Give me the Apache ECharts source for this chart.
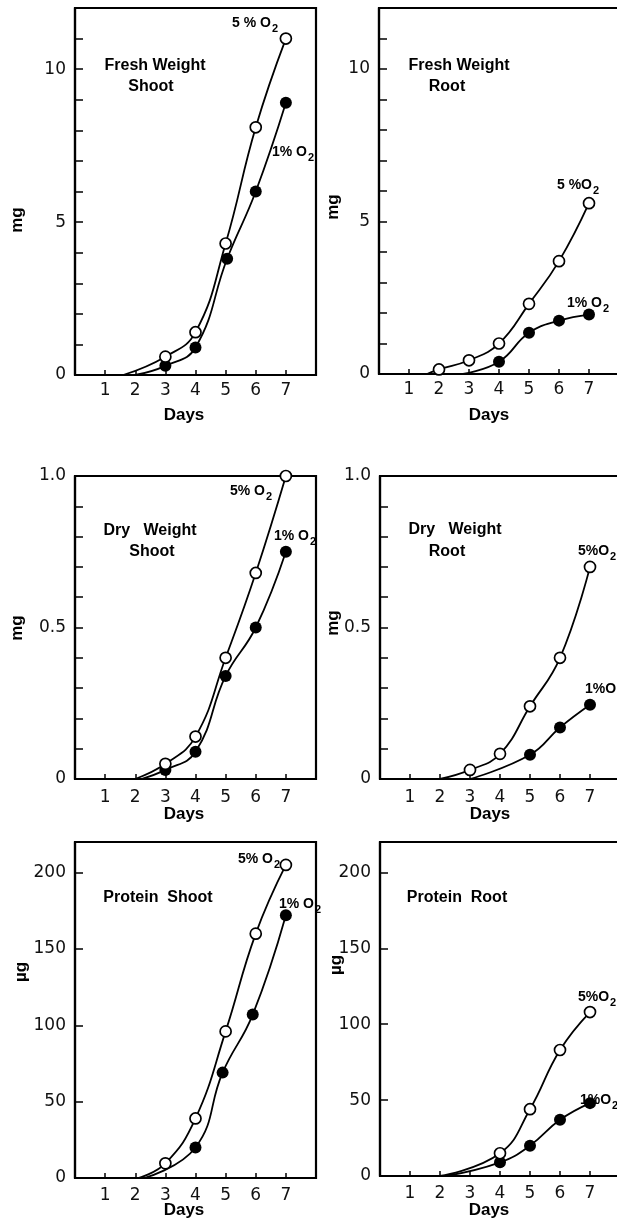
<!DOCTYPE html>
<html><head><meta charset="utf-8">
<script src="https://cdn.jsdelivr.net/npm/echarts@6/dist/echarts.min.js"></script>
<style>html,body{margin:0;padding:0;background:#fff}#c{width:617px;height:1219px}</style>
</head><body><div id="c"></div>
<script>
// ---- tick labels ----
const dayTicks = [1, 2, 3, 4, 5, 6, 7];
const fwTicks = [0, 5, 10];
const dwTickVals = [0, 0.5, 1.0];
const dwTickText = ['0', '0.5', '1.0'];
const prTicks = [0, 50, 100, 150, 200];

// ---- Fresh Weight Shoot (mg) ----
const fwShootDays5 = [3, 4, 5, 6, 7];
const fwShoot5 = [0.6, 1.4, 4.3, 8.1, 11.0];
const fwShootDays1 = [3, 4, 5.05, 6, 7];
const fwShoot1 = [0.3, 0.9, 3.8, 6.0, 8.9];
const fwShootStart = [1.6, 2.0]; // day where fitted curve leaves zero (5%, 1%)

// ---- Fresh Weight Root (mg) ----
const fwRootDays5 = [2, 3, 4, 5, 6, 7];
const fwRoot5 = [0.15, 0.45, 1.0, 2.3, 3.7, 5.6];
const fwRootDays1 = [4, 5, 6, 7];
const fwRoot1 = [0.4, 1.35, 1.75, 1.95];
const fwRootStart = [1.6, 2.8];

// ---- Dry Weight Shoot (mg) ----
const dwShootDays5 = [3, 4, 5, 6, 7];
const dwShoot5 = [0.05, 0.14, 0.40, 0.68, 1.0];
const dwShootDays1 = [3, 4, 5, 6, 7];
const dwShoot1 = [0.03, 0.09, 0.34, 0.50, 0.75];
const dwShootStart = [2.0, 2.2];

// ---- Dry Weight Root (mg) ----
const dwRootDays5 = [3, 4, 5, 6, 7];
const dwRoot5 = [0.03, 0.083, 0.24, 0.40, 0.70];
const dwRootDays1 = [5, 6, 7];
const dwRoot1 = [0.08, 0.17, 0.245];
const dwRootStart = [2.0, 3.0];

// ---- Protein Shoot (µg) ----
const prShootDays5 = [3, 4, 5, 6, 7];
const prShoot5 = [9.6, 39, 96, 160, 205];
const prShootDays1 = [4, 4.9, 5.9, 7];
const prShoot1 = [20, 69, 107, 172];
const prShootStart = [2.1, 2.3];

// ---- Protein Root (µg) ----
const prRootDays5 = [4, 5, 6, 7];
const prRoot5 = [15, 44, 83, 108];
const prRootDays1 = [4, 5, 6, 7];
const prRoot1 = [9, 20, 37, 48];
const prRootStart = [2.0, 2.2];

// ---- layout ----
const grids = [
  {left: 75, top: 8, width: 241, height: 367},
  {left: 379, top: 8, width: 240, height: 366},
  {left: 75, top: 476, width: 241, height: 303},
  {left: 380, top: 476, width: 240, height: 303},
  {left: 75, top: 842, width: 241, height: 336},
  {left: 380, top: 842, width: 240, height: 334}
];
const labelMargins = [7, 7, 10, 10, 9, 9];

const near = (a, b) => Math.abs(a - b) < 1e-6;
const fwFmt = v => fwTicks.some(t => near(t, v)) ? String(v) : '';
const dwFmt = v => { const i = dwTickVals.findIndex(t => near(t, v)); return i >= 0 ? dwTickText[i] : ''; };
const prFmt = v => prTicks.some(t => near(t, v)) ? String(v) : '';
const yCfg = [
  {max: 12, interval: 1, fmt: fwFmt},
  {max: 12, interval: 1, fmt: fwFmt},
  {max: 1, interval: 0.1, fmt: dwFmt},
  {max: 1, interval: 0.1, fmt: dwFmt},
  {max: 220, interval: 50, fmt: prFmt},
  {max: 220, interval: 50, fmt: prFmt}
];

const seriesSets = [
  [fwShootStart, fwShootDays5, fwShoot5, fwShootDays1, fwShoot1],
  [fwRootStart, fwRootDays5, fwRoot5, fwRootDays1, fwRoot1],
  [dwShootStart, dwShootDays5, dwShoot5, dwShootDays1, dwShoot1],
  [dwRootStart, dwRootDays5, dwRoot5, dwRootDays1, dwRoot1],
  [prShootStart, prShootDays5, prShoot5, prShootDays1, prShoot1],
  [prRootStart, prRootDays5, prRoot5, prRootDays1, prRoot1]
];

function curve(start, xs, ys) {
  return [{value: [start, 0], symbol: 'none'}].concat(xs.map((x, i) => [x, ys[i]]));
}

const tickFont = {fontFamily: 'DejaVu Sans', fontSize: 17, color: '#111'};

const option = {
  animation: false,
  backgroundColor: '#fff',
  grid: grids.map(g => Object.assign({show: true, borderColor: '#000', borderWidth: 2.2,
    backgroundColor: 'transparent', outerBoundsMode: 'none', containLabel: false}, g)),
  xAxis: grids.map((g, i) => ({
    type: 'value', gridIndex: i, min: 0, max: 8, interval: 1,
    axisLine: {show: true, lineStyle: {color: '#000', width: 2.2}},
    axisTick: {show: true, inside: true, length: 5, lineStyle: {color: '#000', width: 1.5}},
    axisLabel: Object.assign({margin: labelMargins[i], formatter: v => dayTicks.some(t => near(t, v)) ? String(v) : ''}, tickFont),
    splitLine: {show: false}
  })),
  yAxis: grids.map((g, i) => ({
    type: 'value', gridIndex: i, min: 0, max: yCfg[i].max, interval: yCfg[i].interval,
    axisLine: {show: true, lineStyle: {color: '#000', width: 2.2}},
    axisTick: {show: true, inside: true, length: 8, lineStyle: {color: '#000', width: 1.5}},
    axisLabel: Object.assign({margin: 9, formatter: yCfg[i].fmt, showMaxLabel: true}, tickFont),
    splitLine: {show: false}
  })),
  series: []
};

seriesSets.forEach((s, i) => {
  option.series.push({
    name: '1% O2', type: 'line', xAxisIndex: i, yAxisIndex: i, smooth: 0.45,
    data: curve(s[0][1], s[3], s[4]),
    symbol: 'circle', symbolSize: 12,
    lineStyle: {color: '#000', width: 1.8},
    itemStyle: {color: '#000', borderColor: '#000', borderWidth: 0},
    z: 3
  });
  option.series.push({
    name: '5% O2', type: 'line', xAxisIndex: i, yAxisIndex: i, smooth: 0.45,
    data: curve(s[0][0], s[1], s[2]),
    symbol: 'circle', symbolSize: 11,
    lineStyle: {color: '#000', width: 1.8},
    itemStyle: {color: '#fff', borderColor: '#000', borderWidth: 1.7},
    z: 4
  });
});

// ---- text annotations ----
const boldFont = 'bold 16px "Liberation Sans", Arial, sans-serif';
function txt(x, y, text, font, align) {
  return {type: 'text', x: x, y: y, z: 100,
    style: {text: text, font: font || boldFont, fill: '#000', align: align || 'center', verticalAlign: 'middle'}};
}
function o2(x, y, pct) {
  return {type: 'text', x: x, y: y, z: 100,
    style: {
      text: '{b|' + pct + '}{s|2}', align: 'left', verticalAlign: 'middle', fill: '#000',
      rich: {
        b: {font: 'bold 14px "Liberation Sans", Arial, sans-serif', verticalAlign: 'top', padding: [0, 1, 4, 0]},
        s: {font: 'bold 11px "Liberation Sans", Arial, sans-serif', verticalAlign: 'bottom'}
      }
    }};
}
function yname(x, y, t) {
  return {type: 'text', x: x, y: y, rotation: Math.PI / 2, z: 100,
    style: {text: t, font: 'bold 17px "Liberation Sans", Arial, sans-serif', fill: '#000', align: 'center', verticalAlign: 'middle'}};
}
const daysFont = 'bold 17px "Liberation Sans", Arial, sans-serif';

option.graphic = [
  // panel titles
  txt(155, 66, 'Fresh Weight'), txt(151, 87, 'Shoot'),
  txt(459, 66, 'Fresh Weight'), txt(447, 87, 'Root'),
  txt(150, 531, 'Dry   Weight'), txt(152, 552, 'Shoot'),
  txt(455, 530, 'Dry   Weight'), txt(447, 552, 'Root'),
  txt(158, 898, 'Protein  Shoot'),
  txt(457, 898, 'Protein  Root'),
  // series labels
  o2(232, 25, '5 % O'), o2(272, 154, '1% O'),
  o2(557, 187, '5 %O'), o2(567, 305, '1% O'),
  o2(230, 493, '5% O'), o2(274, 538, '1% O'),
  o2(578, 553, '5%O'), o2(585, 691, '1%O'),
  o2(238, 861, '5% O'), o2(279, 906, '1% O'),
  o2(578, 999, '5%O'), o2(580, 1102, '1%O'),
  // axis names
  yname(17, 220, 'mg'), yname(333, 207, 'mg'),
  yname(17, 628, 'mg'), yname(333, 623, 'mg'),
  yname(21, 972, 'µg'), yname(336, 965, 'µg'),
  txt(184, 415, 'Days', daysFont), txt(489, 415, 'Days', daysFont),
  txt(184, 814, 'Days', daysFont), txt(490, 814, 'Days', daysFont),
  txt(184, 1210, 'Days', daysFont), txt(489, 1210, 'Days', daysFont)
];

const chart = echarts.init(document.getElementById('c'), null, {renderer: 'canvas'});
chart.setOption(option);
</script>
</body></html>
